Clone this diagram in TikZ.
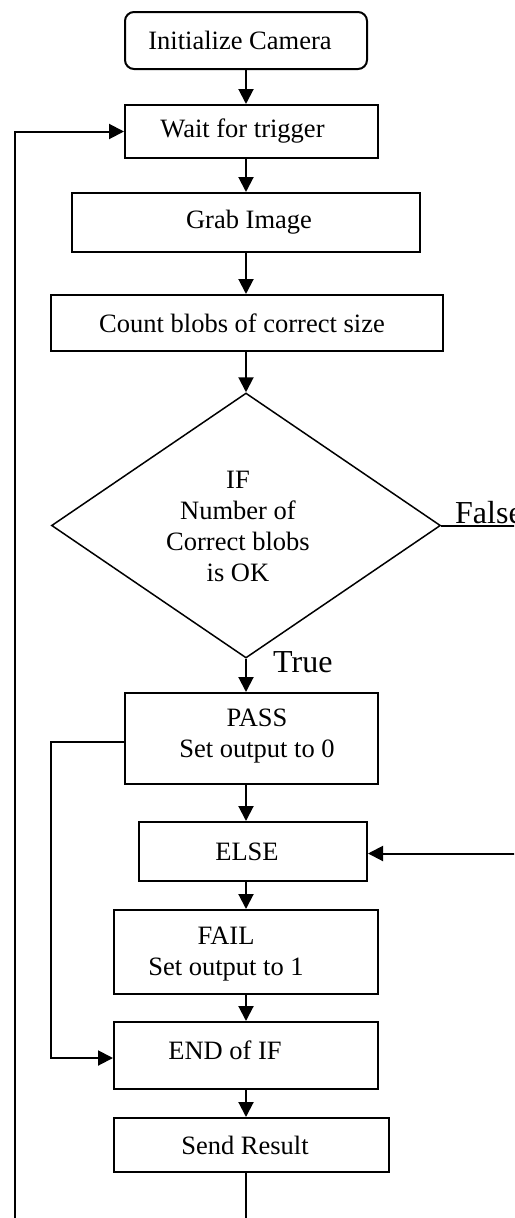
\documentclass[tikz,border=0pt]{standalone}
\usepackage{fontspec}
\setmainfont{Liberation Serif}
\usetikzlibrary{arrows.meta,shapes.geometric}
\begin{document}
\begin{tikzpicture}[x=1pt,y=-1pt,
  box/.style={draw,line width=2pt,inner sep=0pt,rectangle},
  lbl/.style={align=center,inner sep=0pt,font=\fontsize{26.5pt}{31pt}\selectfont},
  arr/.style={line width=2pt,-{Triangle[length=15pt,width=15pt]}},
  big/.style={inner sep=0pt,font=\fontsize{32pt}{36pt}\selectfont}]
\useasboundingbox (0,0) rectangle (514,1218);
\clip (0,0) rectangle (514,1218);
\fill[white] (0,0) rectangle (514,1218);
\coordinate (ax) at (246,0);
\coordinate (lb) at (15,1240);
\coordinate (rb) at (530,0);
\coordinate (bx) at (51,0);

\node[box,rounded corners=9pt,minimum width=242pt,minimum height=57pt,
  label={[lbl,xshift=-6pt]center:Initialize Camera}] (init) at (246,40.5) {};
\node[box,minimum width=253pt,minimum height=53pt,
  label={[lbl,xshift=-9pt]center:Wait for trigger}] (wait) at (251.5,131.5) {};
\node[box,minimum width=348pt,minimum height=59pt,
  label={[lbl,xshift=3pt]center:Grab Image}] (grab) at (246,222.5) {};
\node[box,minimum width=392pt,minimum height=56pt,
  label={[lbl,xshift=-5pt]center:Count blobs of correct size}] (count) at (247,323) {};
\node[draw,diamond,line width=1.5pt,inner sep=0pt,minimum width=389pt,minimum height=265pt,
  label={[lbl,xshift=-8pt,yshift=-1pt]center:{IF\\Number of\\Correct blobs\\is OK}}] (dec) at (246,525.5) {};
\node[box,minimum width=253pt,minimum height=91pt,
  label={[lbl,xshift=5.5pt,yshift=2pt]center:{PASS\\Set output to 0}}] (pass) at (251.5,738.5) {};
\node[box,minimum width=228pt,minimum height=59pt,
  label={[lbl,xshift=-6pt]center:ELSE}] (else) at (253,851.5) {};
\node[box,minimum width=264pt,minimum height=84pt,
  label={[lbl,xshift=-20pt,yshift=-2pt]center:{FAIL\\Set output to 1}}] (fail) at (246,952) {};
\node[box,minimum width=264pt,minimum height=67pt,
  label={[lbl,xshift=-21pt,yshift=5pt]center:END of IF}] (endif) at (246,1055.5) {};
\node[box,minimum width=275pt,minimum height=54pt,
  label={[lbl,xshift=-6.5pt]center:Send Result}] (send) at (251.5,1145) {};

\node[big,anchor=base west] (truel) at (273,672) {True};
\node[big,anchor=base west] (falsel) at (455,523) {False};

\draw[arr] (init.south -| ax) -- (wait.north -| ax);
\draw[arr] (wait.south -| ax) -- (grab.north -| ax);
\draw[arr] (grab.south -| ax) -- (count.north -| ax);
\draw[arr] (count.south -| ax) -- (dec.north);
\draw[arr] (dec.south) -- (pass.north -| ax);
\draw[arr] (pass.south -| ax) -- (else.north -| ax);
\draw[arr] (else.south -| ax) -- (fail.north -| ax);
\draw[arr] (fail.south -| ax) -- (endif.north -| ax);
\draw[arr] (endif.south -| ax) -- (send.north -| ax);
\draw[arr] (send.south -| ax) |- (lb) |- (wait.west);
\draw[arr] (dec.east) -- (dec.east -| rb) |- ([yshift=-2pt]else.east);
\draw[arr] ([yshift=-3pt]pass.west) -- ([yshift=-3pt]pass.west -| bx) |- ([yshift=-2.5pt]endif.west);
\end{tikzpicture}
\end{document}
